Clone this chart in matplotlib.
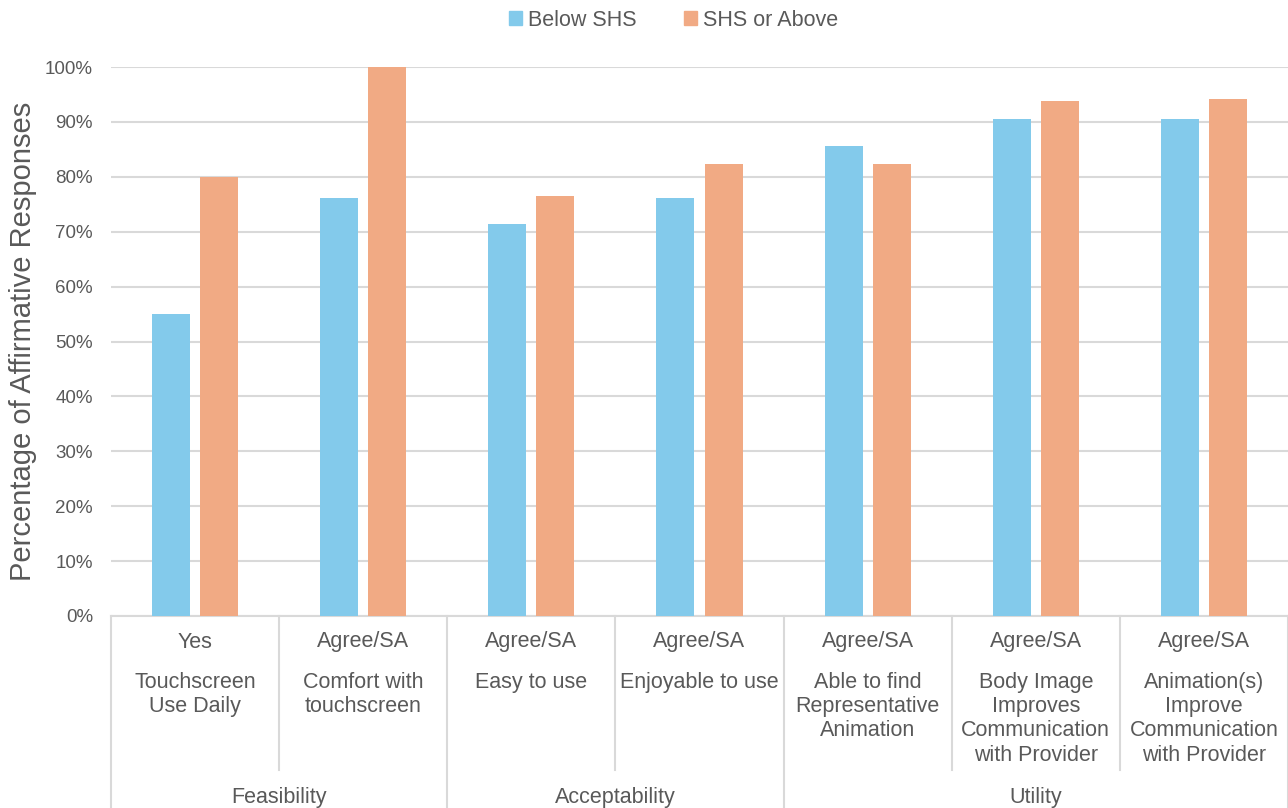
import numpy as np
import matplotlib
matplotlib.use("Agg")
import matplotlib.pyplot as plt
from matplotlib.patches import Patch

plt.rcParams['font.family'] = ['Liberation Sans', 'DejaVu Sans']

# survey items, response level and domain
levels = ["Yes", "Agree/SA", "Agree/SA", "Agree/SA", "Agree/SA", "Agree/SA", "Agree/SA"]
items = ["Touchscreen\nUse Daily", "Comfort with\ntouchscreen", "Easy to use",
         "Enjoyable to use", "Able to find\nRepresentative\nAnimation",
         "Body Image\nImproves\nCommunication\nwith Provider",
         "Animation(s)\nImprove\nCommunication\nwith Provider"]
domains = ["Feasibility", "Acceptability", "Utility"]
domain_sizes = [2, 2, 3]

below_shs = [55.0, 76.2, 71.4, 76.2, 85.7, 90.5, 90.5]
shs_above = [80.0, 100.0, 76.5, 82.4, 82.4, 93.8, 94.1]

BLUE = "#83CAEB"
ORANGE = "#F1AA84"
GRID = "#D9D9D9"
TXT = "#595959"

W, H = 1288, 808
fig = plt.figure(figsize=(W / 100, H / 100), dpi=100)
ax_top, ax_bot, ax_left = 67, 616, 111
ax = fig.add_axes([ax_left / W, 1 - ax_bot / H, 1 - ax_left / W, (ax_bot - ax_top) / H])

x = np.arange(len(items))
bw, off = 0.226, 0.143
ax.bar(x - off, np.array(below_shs) / 100, bw, color=BLUE, zorder=3)
ax.bar(x + off, np.array(shs_above) / 100, bw, color=ORANGE, zorder=3)

ax.set_xlim(-0.5, len(items) - 0.5)
ax.set_ylim(0, 1.0)
ax.set_yticks(np.arange(0, 1.01, 0.1))
ax.set_yticklabels([f"{int(round(v * 100))}%" for v in np.arange(0, 1.01, 0.1)])
ax.tick_params(axis='y', length=0, pad=13, labelsize=13.5, labelcolor=TXT)
ax.set_xticks([])
ax.grid(axis='y', color=GRID, lw=1.5, zorder=0)
for s in ["top", "right", "left"]:
    ax.spines[s].set_visible(False)
ax.spines["bottom"].set_color(GRID)
ax.spines["bottom"].set_linewidth(1.5)

ax.set_ylabel("Percentage of Affirmative Responses", fontsize=21, color=TXT)
ax.yaxis.set_label_coords((37 - ax_left) / (W - ax_left), 0.5)

# category labels under the axis
span = ax_bot - ax_top
def yf(py):
    return (ax_bot - py) / span

tr = ax.get_xaxis_transform()
for i in x:
    ax.text(i, yf(642), levels[i], transform=tr, ha='center', va='center',
            fontsize=15.5, color=TXT)
    ax.text(i, yf(672), items[i], transform=tr, ha='center', va='top',
            fontsize=15.5, color=TXT, linespacing=1.2)

# separators: short ones between items, long ones between domains
bounds = np.cumsum([0] + domain_sizes) - 0.5
for b in np.arange(-0.5, len(items), 1.0):
    low = yf(H) if np.any(np.isclose(bounds, b)) else yf(770)
    ax.plot([b, b], [0, low], transform=tr, color=GRID, lw=1.5, clip_on=False)

for k, name in enumerate(domains):
    mid = (bounds[k] + bounds[k + 1]) / 2
    ax.text(mid, yf(797), name, transform=tr, ha='center', va='center',
            fontsize=15.5, color=TXT)

handles = [Patch(color=BLUE, label="Below SHS"), Patch(color=ORANGE, label="SHS or Above")]
fig.legend(handles=handles, loc='center', bbox_to_anchor=(0.523, 1 - 20 / H), ncol=2,
           frameon=False, fontsize=15.5, handlelength=0.6, handleheight=0.6,
           handletextpad=0.3, columnspacing=2.2, labelcolor=TXT)

fig.savefig("out.png", dpi=100)
